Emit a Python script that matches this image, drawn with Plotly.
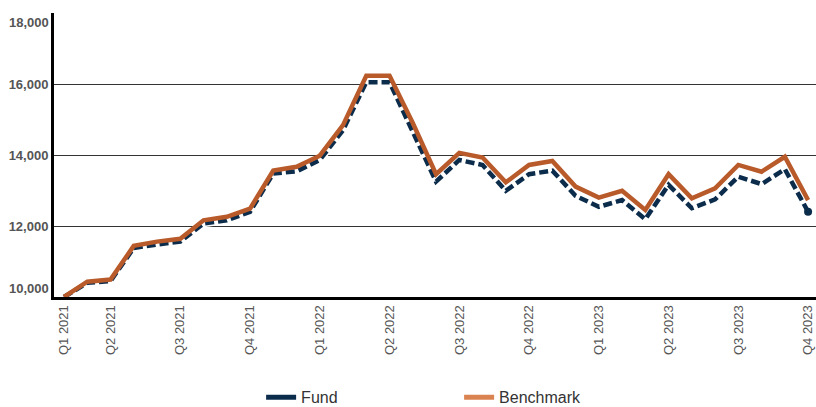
import plotly.graph_objects as go

months = ["Feb 2021", "Mar 2021", "Apr 2021", "May 2021", "Jun 2021", "Jul 2021",
          "Aug 2021", "Sep 2021", "Oct 2021", "Nov 2021", "Dec 2021", "Jan 2022",
          "Feb 2022", "Mar 2022", "Apr 2022", "May 2022", "Jun 2022", "Jul 2022",
          "Aug 2022", "Sep 2022", "Oct 2022", "Nov 2022", "Dec 2022", "Jan 2023",
          "Feb 2023", "Mar 2023", "Apr 2023", "May 2023", "Jun 2023", "Jul 2023",
          "Aug 2023", "Sep 2023", "Oct 2023"]

fund = [10000, 10400, 10450, 11380, 11480, 11560, 12070, 12160, 12400, 13480,
        13540, 13860, 14700, 16050, 16050, 14660, 13250, 13860, 13720, 12990,
        13460, 13560, 12850, 12540, 12730, 12190, 13160, 12500, 12750, 13390,
        13180, 13600, 12400]

benchmark = [10000, 10430, 10490, 11440, 11560, 11640, 12160, 12260, 12490, 13560,
             13670, 13980, 14840, 16230, 16230, 14900, 13460, 14060, 13930, 13230,
             13720, 13830, 13110, 12800, 12990, 12450, 13460, 12780, 13060, 13720,
             13530, 13950, 12730]

tick_months = ["Feb 2021", "Apr 2021", "Jul 2021", "Oct 2021", "Jan 2022", "Apr 2022",
               "Jul 2022", "Oct 2022", "Jan 2023", "Apr 2023", "Jul 2023", "Oct 2023"]
tick_labels = ["Q1 2021", "Q2 2021", "Q3 2021", "Q4 2021", "Q1 2022", "Q2 2022",
               "Q3 2022", "Q4 2022", "Q1 2023", "Q2 2023", "Q3 2023", "Q4 2023"]

y_ticks = [12000, 14000, 16000]
y_edge_ticks = [10000, 18000]

NAVY = "#0c2c4c"
ORANGE = "#b85a2a"
ORANGE_LEGEND = "#da8250"

fig = go.Figure()

# white halo under the fund line
fig.add_trace(go.Scatter(x=months, y=fund, mode="lines",
                         line=dict(color="white", width=7.5),
                         showlegend=False, hoverinfo="skip"))
# fund dashed line
fig.add_trace(go.Scatter(x=months, y=fund, mode="lines",
                         line=dict(color=NAVY, width=4.5, dash="9px,4px"),
                         showlegend=False))
# end dot
fig.add_trace(go.Scatter(x=[months[-1]], y=[fund[-1]], mode="markers",
                         marker=dict(color=NAVY, size=8),
                         showlegend=False))
# benchmark line
fig.add_trace(go.Scatter(x=months, y=benchmark, mode="lines",
                         line=dict(color=ORANGE, width=4.5),
                         showlegend=False))
# legend entries
fig.add_trace(go.Scatter(x=[None], y=[None], mode="lines", name="Fund",
                         line=dict(color=NAVY, width=5)))
fig.add_trace(go.Scatter(x=[None], y=[None], mode="lines", name="Benchmark",
                         line=dict(color=ORANGE_LEGEND, width=5)))

for v in y_edge_ticks:
    fig.add_annotation(x=0, xref="paper", y=v, yref="y",
                       text=f"{v:,}", showarrow=False, xanchor="right",
                       xshift=-3, yshift=(9 if v == 10000 else -9),
                       font=dict(family="Liberation Sans, Arial", size=13,
                                 color="#555555", weight="bold"))

fig.update_layout(
    width=816, height=407,
    margin=dict(l=54, r=0, t=13, b=110),
    paper_bgcolor="white", plot_bgcolor="white",
    showlegend=True,
    legend=dict(orientation="h", xref="container", yref="container",
                x=0.32, xanchor="left", y=0.024, yanchor="middle",
                entrywidth=153,
                font=dict(family="Liberation Sans, Arial", size=16, color="#333333")),
    xaxis=dict(type="category", range=[-0.43, 32.34],
               tickmode="array", tickvals=tick_months, ticktext=tick_labels,
               tickangle=-90, showgrid=False, zeroline=False,
               showline=True, linecolor="black", linewidth=3,
               ticks="", tickfont=dict(family="Liberation Sans, Arial", size=13,
                                       color="#555555")),
    yaxis=dict(range=[10000, 18000], tickmode="array", tickvals=y_ticks,
               tickformat=",", showgrid=True, gridcolor="#333333", gridwidth=1,
               zeroline=False, showline=True, linecolor="black", linewidth=3,
               ticks="",
               tickfont=dict(family="Liberation Sans, Arial", size=13,
                             color="#555555", weight="bold")),
)

fig.write_html("out.html", config={"displayModeBar": False},
               post_script="document.body.style.margin='0';document.body.style.overflow='hidden';")
